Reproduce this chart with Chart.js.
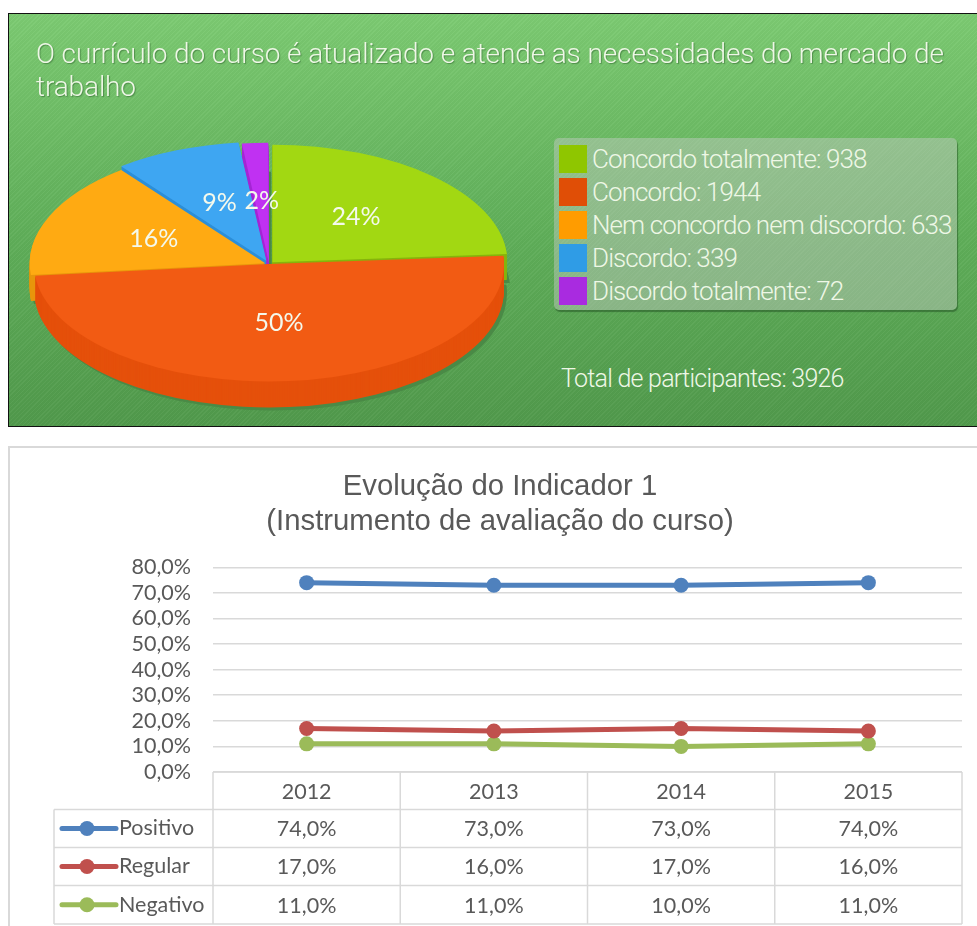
<!DOCTYPE html>
<html lang="pt">
<head>
<meta charset="utf-8">
<title>Indicador 1</title>
<script src="https://cdn.jsdelivr.net/npm/chart.js@4"></script>
<style>
html, body { margin: 0; padding: 0; background: #fff; }
body { position: relative; width: 977px; height: 926px; overflow: hidden; }
#topPanel {
    position: absolute; left: 8px; top: 13px; width: 969px; height: 414px;
    box-sizing: border-box; overflow: hidden;
    border: 1.5px solid #111; border-right: none;
    background:
        repeating-linear-gradient(135deg, rgba(255,255,255,.035) 0 1px, rgba(0,0,0,.02) 1px 3px),
        linear-gradient(#7ccb72, #5fae59 55%, #519a4c);
    font-family: "Roboto", sans-serif; font-weight: 300; color: #eef7e6;
}
#pieCanvas { position: absolute; left: 11px; top: 1px; }
#pieTitle {
    position: absolute; left: 27px; top: 23px; margin: 0;
    font-size: 28px; line-height: 33px; font-weight: 300; width: 930px;
    letter-spacing: -0.11px;
    text-shadow: 1px 1px 1px rgba(40,90,40,.5);
}
#pieLegend {
    position: absolute; left: 545px; top: 124px; width: 403px; height: 172px;
    box-sizing: border-box; border-radius: 5px; padding: 4px 0 0 5px;
    background: rgba(205,205,205,.42);
    box-shadow: 1px 2px 1px rgba(40,90,40,.6);
}
.legendRow { height: 33px; display: flex; align-items: center; font-size: 26px; white-space: nowrap; letter-spacing: -0.9px; }
.legendRow i { display: block; flex: none; width: 28px; height: 28px; margin-right: 5px; }
#pieTotal { position: absolute; left: 552px; top: 350px; font-size: 25px; white-space: nowrap; letter-spacing: -0.75px; }
#linePanel {
    position: absolute; left: 8px; top: 446px; width: 969px; height: 480px;
    box-sizing: border-box; border: 2px solid #d9d9d9; border-right: none; border-bottom: none;
}
#lineCanvas { position: absolute; left: 38px; top: 447px; }
</style>
</head>
<body>
<div id="topPanel">
    <canvas id="pieCanvas" width="498" height="498"></canvas>
    <h1 id="pieTitle">O currículo do curso é atualizado e atende as necessidades do mercado de trabalho</h1>
    <div id="pieLegend"></div>
    <div id="pieTotal"></div>
</div>
<div id="linePanel"></div>
<canvas id="lineCanvas" width="939" height="479"></canvas>
<script>
// pizza
const pieLabels = ["Concordo totalmente", "Concordo", "Nem concordo nem discordo", "Discordo", "Discordo totalmente"];
const pieValues = [938, 1944, 633, 339, 72];
const pieOffsets = [20, 0, 16, 28, 16];
const pieTopColors = ["#a2d812", "#f25b13", "#ffaa12", "#3ea6f2", "#c031f2"];
const pieSideColors = ["#86b40c", "#e5500b", "#e8960c", "#2c8fd8", "#a526d4"];
const legendColors = ["#8fc600", "#e04e06", "#ff9c00", "#2f9ce6", "#a92be0"];
const totalLabel = "Total de participantes: 3926";

// linhas
const years = ["2012", "2013", "2014", "2015"];
const positivo = [74, 73, 73, 74];
const regular = [17, 16, 17, 16];
const negativo = [11, 11, 10, 11];
const lineTitle = ["Evolução do Indicador 1", "(Instrumento de avaliação do curso)"];
const yTicks = [0, 10, 20, 30, 40, 50, 60, 70, 80];

const squash = 0.5;
const depth = 26;

function percentText(v) {
    return v.toFixed(1).replace(".", ",") + "%";
}

pieLabels.forEach((label, i) => {
    const row = document.createElement("div");
    row.className = "legendRow";
    row.innerHTML = `<i style="background:${legendColors[i]}"></i><span>${label}: ${pieValues[i]}</span>`;
    document.getElementById("pieLegend").appendChild(row);
});
document.getElementById("pieTotal").textContent = totalLabel;

// achata a pizza e desenha a lateral, o chart.js so faz circulo
const flatPie = {
    id: "flatPie",
    beforeDatasetsDraw(chart) {
        const ctx = chart.ctx;
        const arcs = chart.getDatasetMeta(0).data;
        const cx = arcs[0].x;
        const cy = arcs[0].y;

        function drawLayer(dx, dy, colorOf) {
            arcs.forEach((arc, i) => {
                const keep = arc.options;
                arc.options = Object.assign({}, keep, { backgroundColor: colorOf(i) });
                ctx.save();
                ctx.translate(cx + dx, cy + dy);
                ctx.scale(1, squash);
                ctx.translate(-cx, -cy);
                arc.draw(ctx);
                ctx.restore();
                arc.options = keep;
            });
        }

        drawLayer(3, depth + 3, () => "#4a8a46");
        for (let d = depth; d > 0; d--) {
            drawLayer(0, d, i => pieSideColors[i]);
        }

        ctx.save();
        ctx.translate(cx, cy);
        ctx.scale(1, squash);
        ctx.translate(-cx, -cy);
    },
    afterDatasetsDraw(chart) {
        const ctx = chart.ctx;
        ctx.restore();
        const arcs = chart.getDatasetMeta(0).data;
        const total = pieValues.reduce((a, b) => a + b, 0);
        ctx.save();
        ctx.font = '25px Lato';
        ctx.fillStyle = "#f4f9ec";
        ctx.textAlign = "center";
        ctx.textBaseline = "middle";
        arcs.forEach((arc, i) => {
            const p = arc.tooltipPosition();
            const y = arc.y + (p.y - arc.y) * squash;
            ctx.fillText(Math.round(pieValues[i] / total * 100) + "%", p.x, y);
        });
        ctx.restore();
    }
};

new Chart(document.getElementById("pieCanvas"), {
    type: "pie",
    data: {
        labels: pieLabels,
        datasets: [{
            data: pieValues,
            backgroundColor: pieTopColors,
            offset: pieOffsets,
            borderWidth: 0,
            clip: false,
        }],
    },
    options: {
        responsive: false,
        animation: false,
        rotation: 0,
        plugins: { legend: { display: false }, tooltip: { enabled: false } },
    },
    plugins: [flatPie],
});

// tabela de dados embaixo do grafico
const dataTable = {
    id: "dataTable",
    afterDraw(chart) {
        const ctx = chart.ctx;
        const xScale = chart.scales.x;
        const step = xScale.getPixelForValue(1) - xScale.getPixelForValue(0);
        const left = chart.chartArea.left;
        const right = chart.chartArea.right;
        const tableLeft = 16;
        const rows = [chart.chartArea.bottom, 362.5, 400.5, 438.5, 477];

        ctx.save();
        ctx.strokeStyle = "#d9d9d9";
        ctx.lineWidth = 1.5;
        rows.forEach((y, i) => {
            ctx.beginPath();
            ctx.moveTo(i === 0 ? left : tableLeft, y);
            ctx.lineTo(right, y);
            ctx.stroke();
        });
        for (let i = 0; i <= years.length; i++) {
            ctx.beginPath();
            ctx.moveTo(left + i * step, rows[0]);
            ctx.lineTo(left + i * step, rows[4]);
            ctx.stroke();
        }
        ctx.beginPath();
        ctx.moveTo(tableLeft, rows[1]);
        ctx.lineTo(tableLeft, rows[4]);
        ctx.stroke();

        ctx.font = "21.5px Lato";
        ctx.fillStyle = "#595959";
        ctx.textBaseline = "middle";
        ctx.textAlign = "center";
        years.forEach((year, i) => {
            ctx.fillText(year, xScale.getPixelForValue(i), (rows[0] + rows[1]) / 2 + 1);
        });
        chart.data.datasets.forEach((ds, r) => {
            const y = (rows[r + 1] + rows[r + 2]) / 2;
            ctx.strokeStyle = ds.borderColor;
            ctx.lineWidth = 5;
            ctx.lineCap = "round";
            ctx.beginPath();
            ctx.moveTo(24, y);
            ctx.lineTo(78, y);
            ctx.stroke();
            ctx.fillStyle = ds.borderColor;
            ctx.beginPath();
            ctx.arc(49, y, 7.5, 0, Math.PI * 2);
            ctx.fill();

            ctx.fillStyle = "#595959";
            ctx.textAlign = "left";
            ctx.fillText(ds.label, 81, y);
            ctx.textAlign = "center";
            ds.data.forEach((v, i) => {
                ctx.fillText(percentText(v), xScale.getPixelForValue(i), y + 1);
            });
        });
        ctx.restore();
    }
};

new Chart(document.getElementById("lineCanvas"), {
    type: "line",
    data: {
        labels: years,
        datasets: [
            { label: "Positivo", data: positivo, borderColor: "#4f81bd", backgroundColor: "#4f81bd" },
            { label: "Regular", data: regular, borderColor: "#c0504d", backgroundColor: "#c0504d" },
            { label: "Negativo", data: negativo, borderColor: "#9bbb59", backgroundColor: "#9bbb59" },
        ],
    },
    options: {
        responsive: false,
        animation: false,
        layout: { padding: { left: 0, right: 15, top: 0, bottom: 154 } },
        elements: {
            line: { borderWidth: 5, tension: 0 },
            point: { radius: 7.5, borderWidth: 0 },
        },
        scales: {
            x: { type: "category", offset: true, display: false },
            y: {
                min: 0,
                max: 80,
                afterFit(scale) { scale.width = 175; },
                afterBuildTicks(scale) { scale.ticks = yTicks.map(v => ({ value: v })); },
                border: { display: false },
                grid: { color: "#d9d9d9", lineWidth: 1.5, drawTicks: false },
                ticks: {
                    padding: 22,
                    autoSkip: false,
                    color: "#595959",
                    font: { family: "Lato", size: 21.5 },
                    callback: v => percentText(v),
                },
            },
        },
        plugins: {
            legend: { display: false },
            tooltip: { enabled: false },
            title: {
                display: true,
                text: lineTitle,
                color: "#595959",
                font: { family: "Liberation Sans", size: 29.3, weight: "normal", lineHeight: 1.2 },
                padding: { top: 22, bottom: 28 },
            },
        },
    },
    plugins: [dataTable],
});
</script>
</body>
</html>
